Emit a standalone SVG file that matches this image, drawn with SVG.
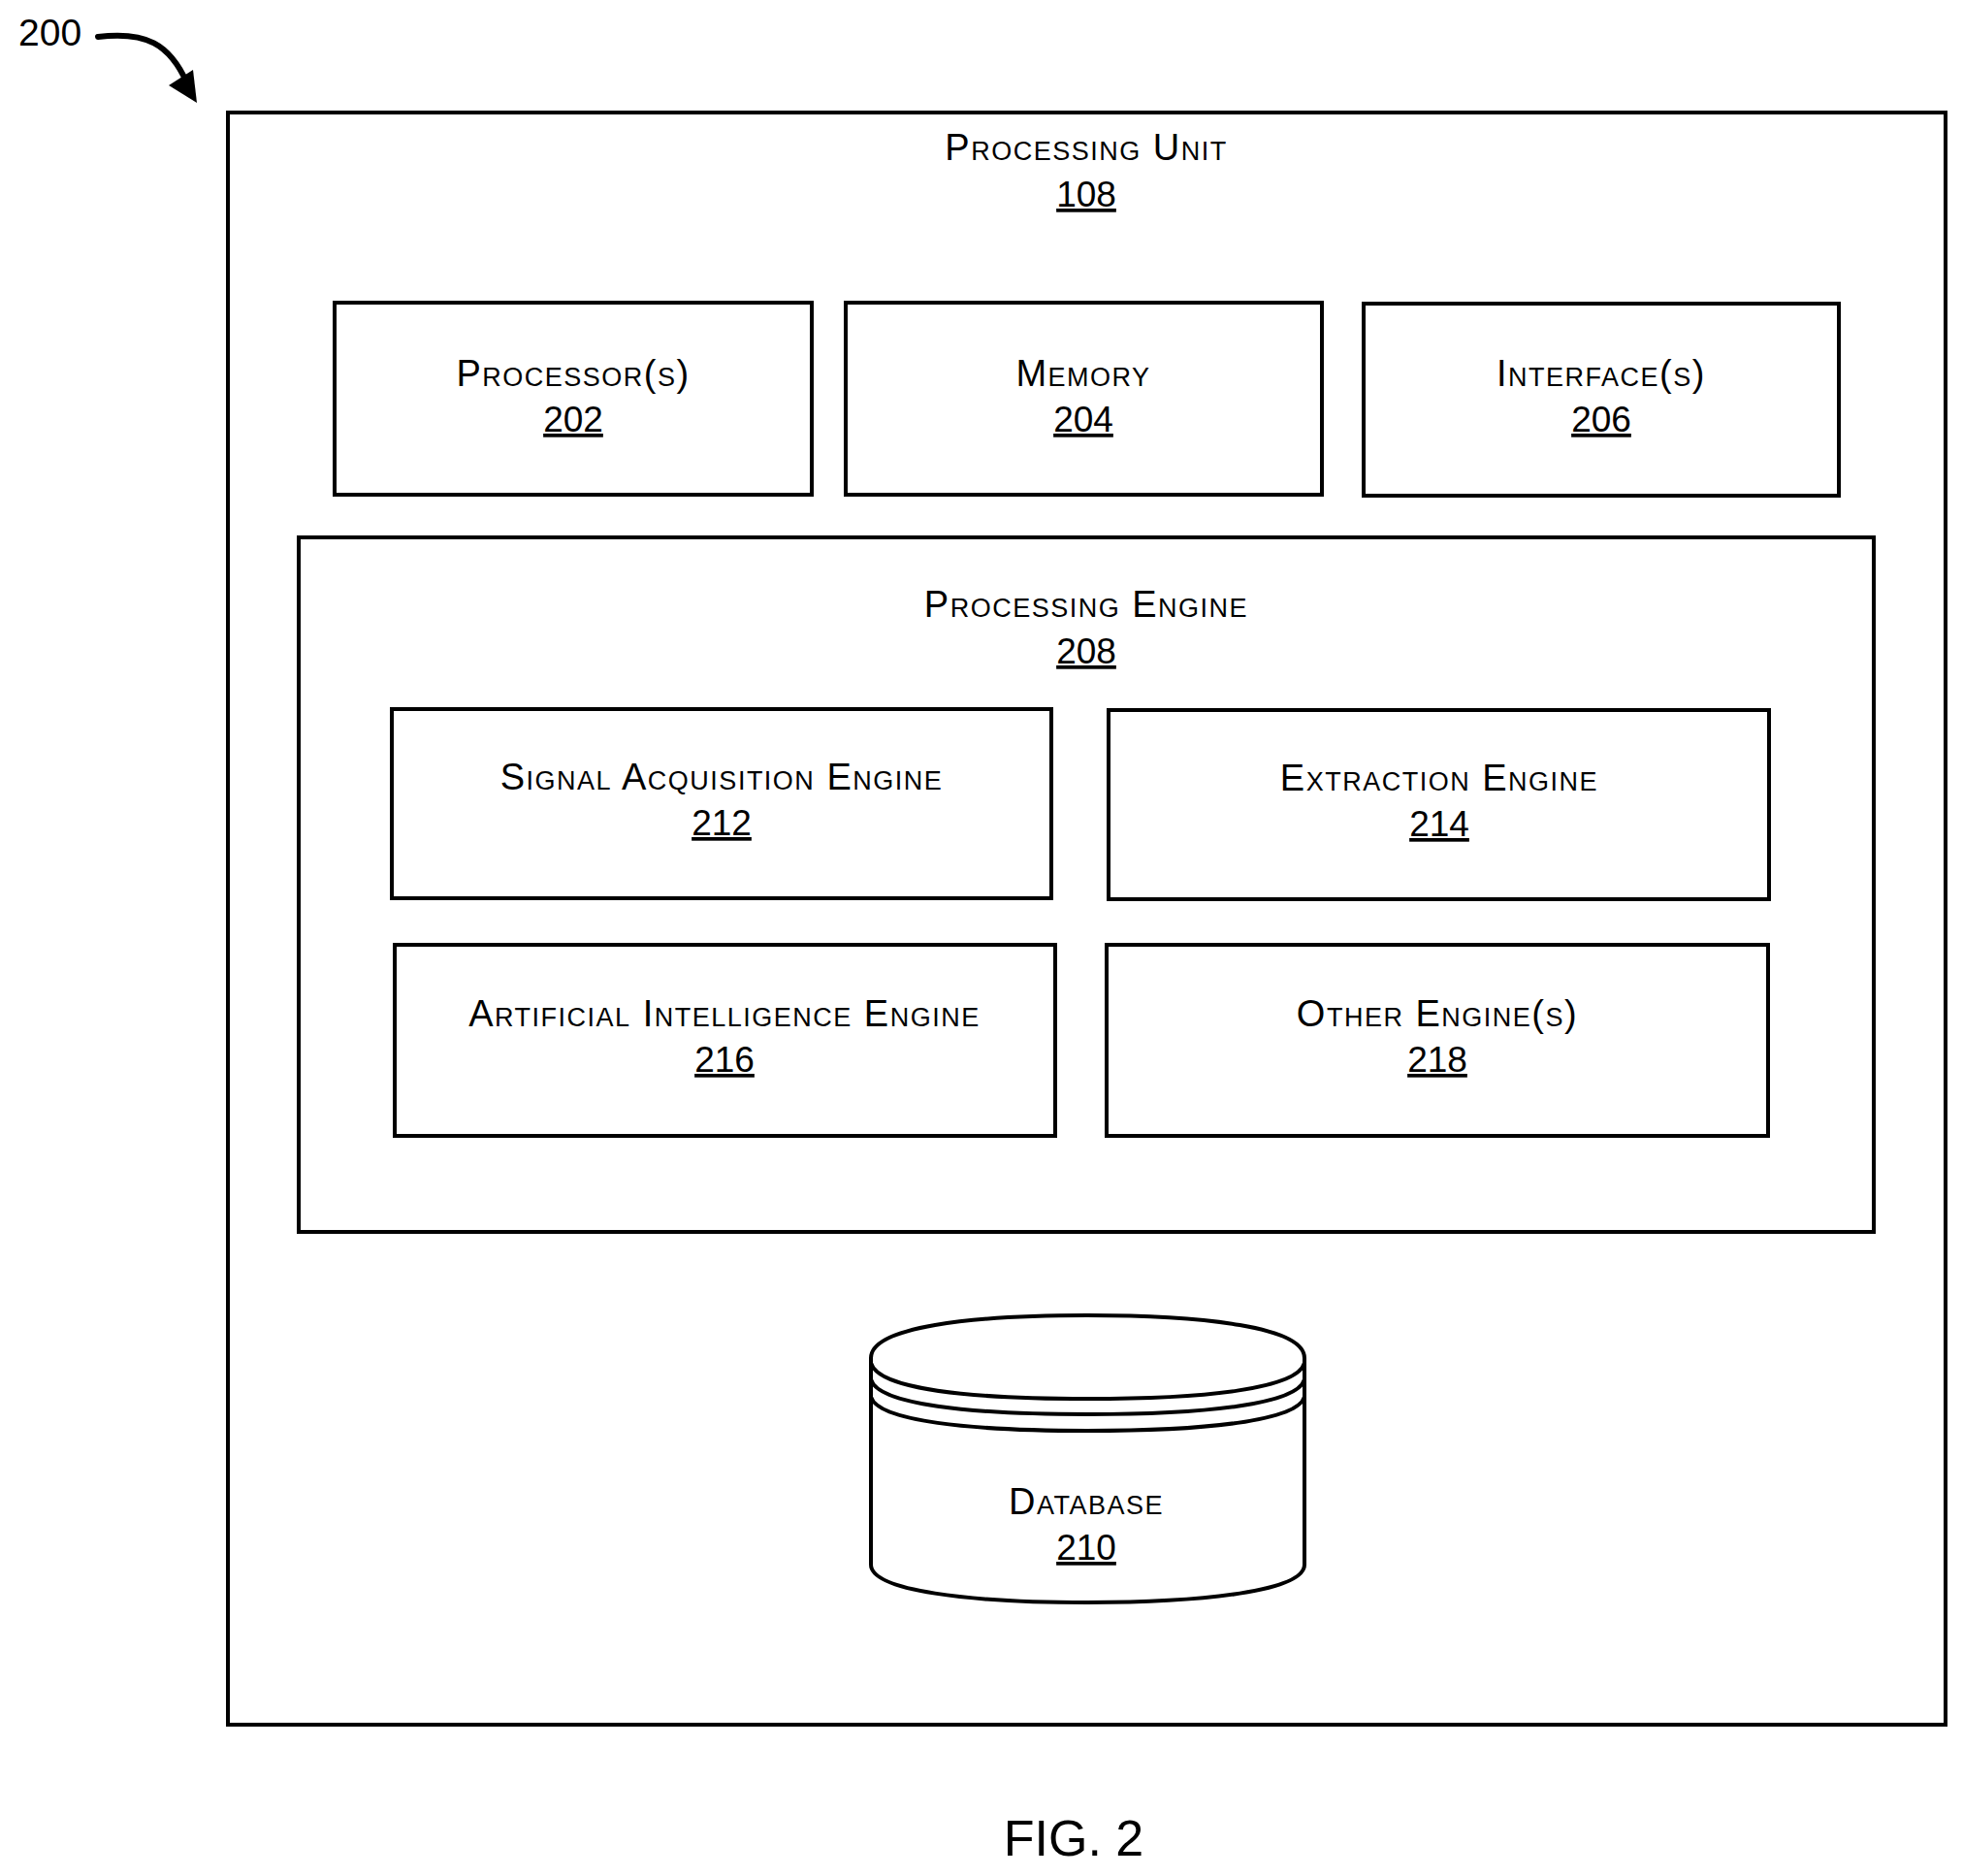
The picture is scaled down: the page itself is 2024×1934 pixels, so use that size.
<svg xmlns="http://www.w3.org/2000/svg" width="2024" height="1934" viewBox="0 0 2024 1934">
<style>
.b{fill:none;stroke:#000;stroke-width:4}
.t{font-family:"Liberation Sans",Arial,sans-serif;font-size:38px;letter-spacing:1.5px;font-variant:small-caps;text-anchor:middle;fill:#000}
.n{font-family:"Liberation Sans",Arial,sans-serif;font-size:37px;text-anchor:middle;text-decoration:underline;fill:#000}
</style>
<rect width="2024" height="1934" fill="#fff"/>
<text x="19" y="47" style="font-family:'Liberation Sans',Arial,sans-serif;font-size:39px">200</text>
<g id="connectors"><path d="M101,38 C150,32 175,45 193,86" fill="none" stroke="#000" stroke-width="6" stroke-linecap="round"/><path d="M174,88 L203,106 L199,72 Z"/></g>
<g id="unit"><rect class="b" x="235" y="116" width="1771" height="1662"/><text class="t" x="1120" y="165">Processing Unit</text><text class="n" x="1120" y="213">108</text></g>
<g id="proc"><rect class="b" x="345" y="312" width="492" height="198"/><text class="t" x="591" y="398">Processor(s)</text><text class="n" x="591" y="445">202</text></g>
<g id="mem"><rect class="b" x="872" y="312" width="491" height="198"/><text class="t" x="1117" y="398">Memory</text><text class="n" x="1117" y="445">204</text></g>
<g id="intf"><rect class="b" x="1406" y="313" width="490" height="198"/><text class="t" x="1651" y="398">Interface(s)</text><text class="n" x="1651" y="445">206</text></g>
<g id="engine"><rect class="b" x="308" y="554" width="1624" height="716"/><text class="t" x="1120" y="636">Processing Engine</text><text class="n" x="1120" y="684">208</text></g>
<g id="sig"><rect class="b" x="404" y="731" width="680" height="195"/><text class="t" x="744" y="814">Signal Acquisition Engine</text><text class="n" x="744" y="861">212</text></g>
<g id="ext"><rect class="b" x="1143" y="732" width="681" height="195"/><text class="t" x="1484" y="815">Extraction Engine</text><text class="n" x="1484" y="862">214</text></g>
<g id="ai"><rect class="b" x="407" y="974" width="681" height="197"/><text class="t" x="747" y="1058">Artificial Intelligence Engine</text><text class="n" x="747" y="1105">216</text></g>
<g id="other"><rect class="b" x="1141" y="974" width="682" height="197"/><text class="t" x="1482" y="1058">Other Engine(s)</text><text class="n" x="1482" y="1105">218</text></g>
<g id="db">
<path class="b" d="M898,1400 C898,1368 1000,1356 1121,1356 C1242,1356 1345,1368 1345,1400 L1345,1613 C1345,1640 1242,1652 1121,1652 C1000,1652 898,1640 898,1613 Z"/>
<path class="b" d="M898,1405 C905,1432 1000,1442 1121,1442 C1242,1442 1338,1432 1345,1405"/>
<path class="b" d="M898,1422 C905,1448 1000,1458 1121,1458 C1242,1458 1338,1448 1345,1422"/>
<path class="b" d="M898,1440 C905,1465 1000,1475 1121,1475 C1242,1475 1338,1465 1345,1440"/>
<text class="t" x="1120" y="1561">Database</text><text class="n" x="1120" y="1608">210</text></g>
<text x="1107" y="1913" style="font-family:'Liberation Sans',Arial,sans-serif;font-size:52px;text-anchor:middle">FIG. 2</text>
</svg>
